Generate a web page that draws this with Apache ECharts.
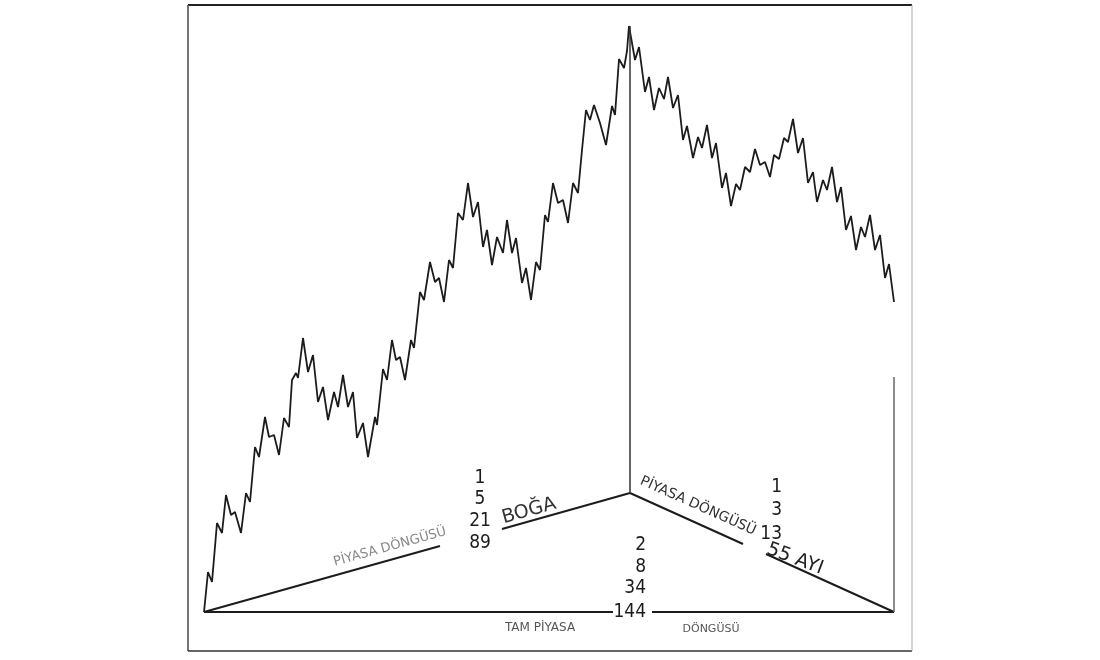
<!DOCTYPE html>
<html><head><meta charset="utf-8">
<script src="https://cdn.jsdelivr.net/npm/echarts@6/dist/echarts.min.js"></script>
<style>html,body{margin:0;padding:0;background:#fff}#c{width:1100px;height:660px}</style>
</head><body><div id="c"></div>
<script>
// Price path (x: time units from cycle start, y: price units above base)
const waveX = [0,4,8,13,18,22,27,31,37,42,46,51,55,61,65,70,75,80,85,88,92,94,99,104,109,114,119,124,130,134,139,144,149,153,159,164,171,173,179,183,188,192,196,201,207,210,216,220,226,231,235,240,245,249,254,259,264,269,274,279,283,288,293,299,303,308,312,318,322,327,332,336,341,344,349,354,359,364,369,374,378,382,386,390,396,402,408,411,415,420,423,425,431,435,441,445,450,455,460,464,469,474,479,483,489,494,498,503,508,512,518,522,527,532,536,541,546,551,556,561,566,570,575,580,584,589,594,599,604,609,613,619,623,628,633,637,642,647,652,657,661,666,671,676,681,685,690];
const waveY = [0,40,30,89,79,117,97,100,79,119,110,165,155,195,175,177,157,194,185,232,239,234,274,240,257,210,225,192,220,205,237,205,220,174,189,155,195,187,243,232,272,252,255,232,272,264,320,312,350,330,334,310,352,344,399,392,429,395,410,365,382,347,375,359,392,359,374,329,344,312,350,342,397,390,429,409,412,389,429,419,462,502,492,507,489,467,506,497,553,544,561,586,552,565,520,535,502,524,513,535,504,517,472,486,454,475,464,487,454,469,424,439,406,428,422,445,440,463,447,450,435,457,453,474,470,493,459,474,429,440,410,432,422,445,410,425,382,396,362,385,375,397,362,377,334,348,310];
// Cycle triangle: bull leg (0 -> 89th month mark), bear leg, full base
const bullLegX = [0,236,null,298,426];
const bullLegY = [0,66,null,83,119];
const bearLegX = [426,539,null,562,690];
const bearLegY = [119,68,null,58,0];
const baseX = [0,409,null,448,690];
const baseY = [0,0,null,0,0];
const peakStemX = [426,426];
const peakStemY = [119,586];
const endStemX = [690,690];
const endStemY = [0,235];
// Fibonacci labels
const bullFib = ['1','5','21','89'];
const fullFib = ['2','8','34','144'];
const bearFib = ['1','3','13'];

const zip = (xs, ys) => xs.map((x, i) => x === null ? '-' : [x, ys[i]]);
const chart = echarts.init(document.getElementById('c'), null, {renderer: 'canvas'});
const ink = '#1c1c1c';
const lineSeries = (xs, ys, w, c) => ({type: 'line', data: zip(xs, ys), symbol: 'none', silent: true,
  lineStyle: {width: w, color: c || ink}, connectNulls: false, z: 3});

const graphics = [];
const txt = (s, x, y, opt) => graphics.push(Object.assign({type: 'text', x, y, rotation: (opt && opt.rot) || 0,
  style: Object.assign({text: s, fill: ink, font: '19px "DejaVu Sans Condensed", "Liberation Sans Narrow", sans-serif',
  textAlign: 'center', textVerticalAlign: 'middle'}, (opt && opt.style) || {})}, {}));
const fr = (x1, y1, x2, y2, w, c) => graphics.push({type: 'line', shape: {x1, y1, x2, y2}, style: {stroke: c, lineWidth: w}});
fr(188, 5, 912, 5, 2, '#222');
fr(188, 5, 188, 651, 1.5, '#444');
fr(188, 651, 912, 651, 1.5, '#333');
fr(912, 5, 912, 651, 1, '#aaa');
const bullYs = [478, 499, 521, 543];
bullFib.forEach((s, i) => txt(s, 480, bullYs[i]));
const fullYs = [545, 567, 588, 612];
fullFib.forEach((s, i) => txt(s, 646, fullYs[i], {style: {textAlign: 'right'}}));
const bearYs = [487, 510, 534];
bearFib.forEach((s, i) => txt(s, 782, bearYs[i], {style: {textAlign: 'right'}}));
txt('BOĞA', 529, 511, {rot: 0.27, style: {font: '19px "DejaVu Sans", sans-serif', fill: '#333'}});
txt('PİYASA DÖNGÜSÜ', 390, 547, {rot: 0.27, style: {font: '13px "DejaVu Sans", sans-serif', fill: '#888'}});
txt('PİYASA DÖNGÜSÜ', 698, 506, {rot: -0.42, style: {font: '14px "DejaVu Sans", sans-serif', fill: '#333'}});
txt('55 AYI', 795, 559, {rot: -0.36, style: {font: '19px "DejaVu Sans", sans-serif', fill: '#222'}});
txt('TAM PİYASA', 540, 628, {style: {font: '12px "DejaVu Sans", sans-serif', fill: '#555'}});
txt('DÖNGÜSÜ', 711, 629, {style: {font: '11px "DejaVu Sans", sans-serif', fill: '#555'}});

chart.setOption({
  animation: false,
  backgroundColor: '#fff',
  grid: {left: 204, right: 206, top: 12, bottom: 48},
  xAxis: {type: 'value', min: 0, max: 690, show: false},
  yAxis: {type: 'value', min: 0, max: 600, show: false},
  series: [
    lineSeries(waveX, waveY, 1.8),
    lineSeries(bullLegX, bullLegY, 2),
    lineSeries(bearLegX, bearLegY, 2),
    lineSeries(baseX, baseY, 2),
    lineSeries(peakStemX, peakStemY, 1.5, '#333'),
    lineSeries(endStemX, endStemY, 1.5, '#666')
  ],
  graphic: graphics
});
</script></body></html>
